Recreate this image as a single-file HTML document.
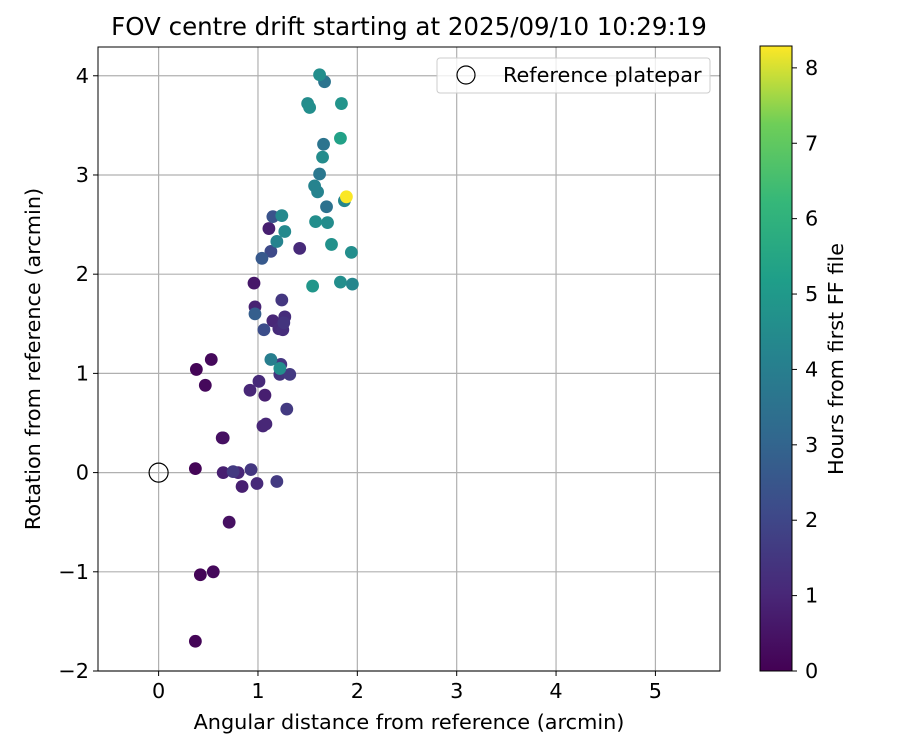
<!DOCTYPE html>
<html><head><meta charset="utf-8"><style>
body{margin:0;background:#fff;font-family:"Liberation Sans","DejaVu Sans",sans-serif;}
svg text{font-family:"DejaVu Sans","Liberation Sans",sans-serif;}
</style></head><body>
<svg id="chart" width="900" height="750" xmlns="http://www.w3.org/2000/svg">
<rect width="900" height="750" fill="#fff"/>
<text x="409" y="35" font-size="24.5" text-anchor="middle" fill="#000">FOV centre drift starting at 2025/09/10 10:29:19</text>
<g id="grid"></g>
<g id="points"></g>
<rect x="98" y="47" width="622" height="624" fill="none" stroke="#000" stroke-width="1"/>
<g id="ticks"></g>
<text x="409" y="729" font-size="20.8" text-anchor="middle">Angular distance from reference (arcmin)</text>
<text transform="translate(40,359) rotate(-90)" font-size="20.8" text-anchor="middle">Rotation from reference (arcmin)</text>
<g>
<rect x="437" y="58" width="273" height="35" rx="3" fill="#fff" fill-opacity="0.8" stroke="#ccc"/>
<circle cx="466" cy="75" r="9" fill="none" stroke="#000" stroke-width="1.2"/>
<text x="503" y="82" font-size="20.8">Reference platepar</text>
</g>
<defs><linearGradient id="vir" x1="0" y1="1" x2="0" y2="0"></linearGradient></defs>
<rect x="760" y="46" width="32" height="625" fill="url(#vir)" stroke="#000" stroke-width="1"/>
<g id="cbticks"></g>
<text transform="translate(843,359) rotate(-90)" font-size="20.8" text-anchor="middle">Hours from first FF file</text>
</svg>
<script>
const xVals=[1.62,1.67,1.50,1.52,1.84,1.66,1.83,1.65,1.62,1.57,1.60,1.87,1.89,1.69,1.58,1.70,1.24,1.15,1.11,1.27,1.19,1.13,1.04,1.42,1.74,1.94,1.55,1.83,1.95,0.96,1.24,0.97,0.97,1.15,1.27,1.21,1.25,1.26,1.06,0.53,0.38,0.47,1.13,1.22,1.23,1.22,1.32,0.92,1.01,1.07,1.29,1.05,1.08,0.64,0.65,0.37,0.65,0.75,0.80,0.93,0.84,0.99,1.19,0.71,0.42,0.55,0.37];
const yVals=[4.01,3.94,3.72,3.68,3.72,3.31,3.37,3.18,3.01,2.89,2.83,2.74,2.78,2.68,2.53,2.52,2.59,2.58,2.46,2.43,2.33,2.23,2.16,2.26,2.30,2.22,1.88,1.92,1.90,1.91,1.74,1.67,1.60,1.53,1.57,1.45,1.44,1.51,1.44,1.14,1.04,0.88,1.14,1.05,1.09,0.99,0.99,0.83,0.92,0.78,0.64,0.47,0.49,0.35,0.35,0.04,0.00,0.01,0.00,0.03,-0.14,-0.11,-0.09,-0.50,-1.03,-1.00,-1.70];
const hours=[4.6,3.6,4.5,4.6,4.8,3.6,5.3,4.5,3.7,4.2,4.2,4.3,8.27,3.5,4.6,4.5,4.4,2.4,0.8,4.4,4.2,2.1,2.6,1.1,4.7,4.6,4.9,4.6,4.3,0.6,1.5,0.9,2.8,1.0,1.2,1.1,1.2,1.4,2.2,0.2,0.1,0.2,4.0,4.6,1.5,1.4,1.6,1.0,1.1,0.8,1.6,1.0,1.0,0.4,0.4,0.1,0.8,1.6,1.0,1.5,0.8,1.1,1.6,0.4,0.1,0.2,0.1];
const xTicks=[0,1,2,3,4,5];
const yTicks=[-2,-1,0,1,2,3,4];
const cTicks=[0,1,2,3,4,5,6,7,8];
const X0=-0.61,X1=5.65,Y0=-2,Y1=4.29,C1=8.29;
const sx=v=>98+(v-X0)/(X1-X0)*622;
const sy=v=>671-(v-Y0)/(Y1-Y0)*624;
const sc=v=>671-v/C1*625;
const stops=[[0,'#440154'],[0.125,'#482878'],[0.25,'#3e4989'],[0.375,'#31688e'],[0.5,'#26828e'],[0.625,'#1f9e89'],[0.75,'#35b779'],[0.875,'#6ece58'],[1,'#fde725']];
const hex=h=>[1,3,5].map(i=>parseInt(h.substr(i,2),16));
function vir(t){t=Math.max(0,Math.min(1,t));for(let i=1;i<stops.length;i++){if(t<=stops[i][0]){const a=hex(stops[i-1][1]),b=hex(stops[i][1]);const f=(t-stops[i-1][0])/(stops[i][0]-stops[i-1][0]);return 'rgb('+a.map((v,k)=>Math.round(v+(b[k]-v)*f)).join(',')+')';}}return stops[8][1];}
const NS='http://www.w3.org/2000/svg';
function mk(tag,attrs,parent){const e=document.createElementNS(NS,tag);for(const k in attrs)e.setAttribute(k,attrs[k]);parent.appendChild(e);return e;}
const grid=document.getElementById('grid'),ticks=document.getElementById('ticks');
xTicks.forEach(t=>{const x=sx(t);
const g=mk('line',{x1:x,x2:x,y1:47,y2:671,stroke:'#b0b0b0','stroke-width':1.2},grid);


mk('line',{x1:x,x2:x,y1:671,y2:676,stroke:'#000'},ticks);
const l=mk('text',{x:x,y:698,'font-size':20.8,'text-anchor':'middle'},ticks);l.textContent=t;

});
yTicks.forEach(t=>{const y=sy(t);
const g=mk('line',{x1:98,x2:720,y1:y,y2:y,stroke:'#b0b0b0','stroke-width':1.2},grid);


mk('line',{x1:93,x2:98,y1:y,y2:y,stroke:'#000'},ticks);
const l=mk('text',{x:89,y:y+7,'font-size':20.8,'text-anchor':'end'},ticks);l.textContent=t<0?'\u2212'+(-t):t;

});
const pts=document.getElementById('points');
const idx=hours.map((h,i)=>i).sort((a,b)=>hours[a]-hours[b]);
idx.forEach(i=>{const c=mk('circle',{cx:sx(xVals[i]),cy:sy(yVals[i]),r:6.4,fill:vir(hours[i]/C1)},pts);

});
const ref=mk('circle',{cx:sx(0),cy:sy(0),r:9.5,fill:'none',stroke:'#000','stroke-width':1.2},pts);


const grad=document.getElementById('vir');
stops.forEach(s=>mk('stop',{offset:s[0],'stop-color':s[1]},grad));
const cb=document.getElementById('cbticks');
cTicks.forEach(t=>{const y=sc(t);
mk('line',{x1:792,x2:797,y1:y,y2:y,stroke:'#000'},cb);
const l=mk('text',{x:805,y:y+7,'font-size':20.8},cb);l.textContent=t;

});
</script>
</body></html>
